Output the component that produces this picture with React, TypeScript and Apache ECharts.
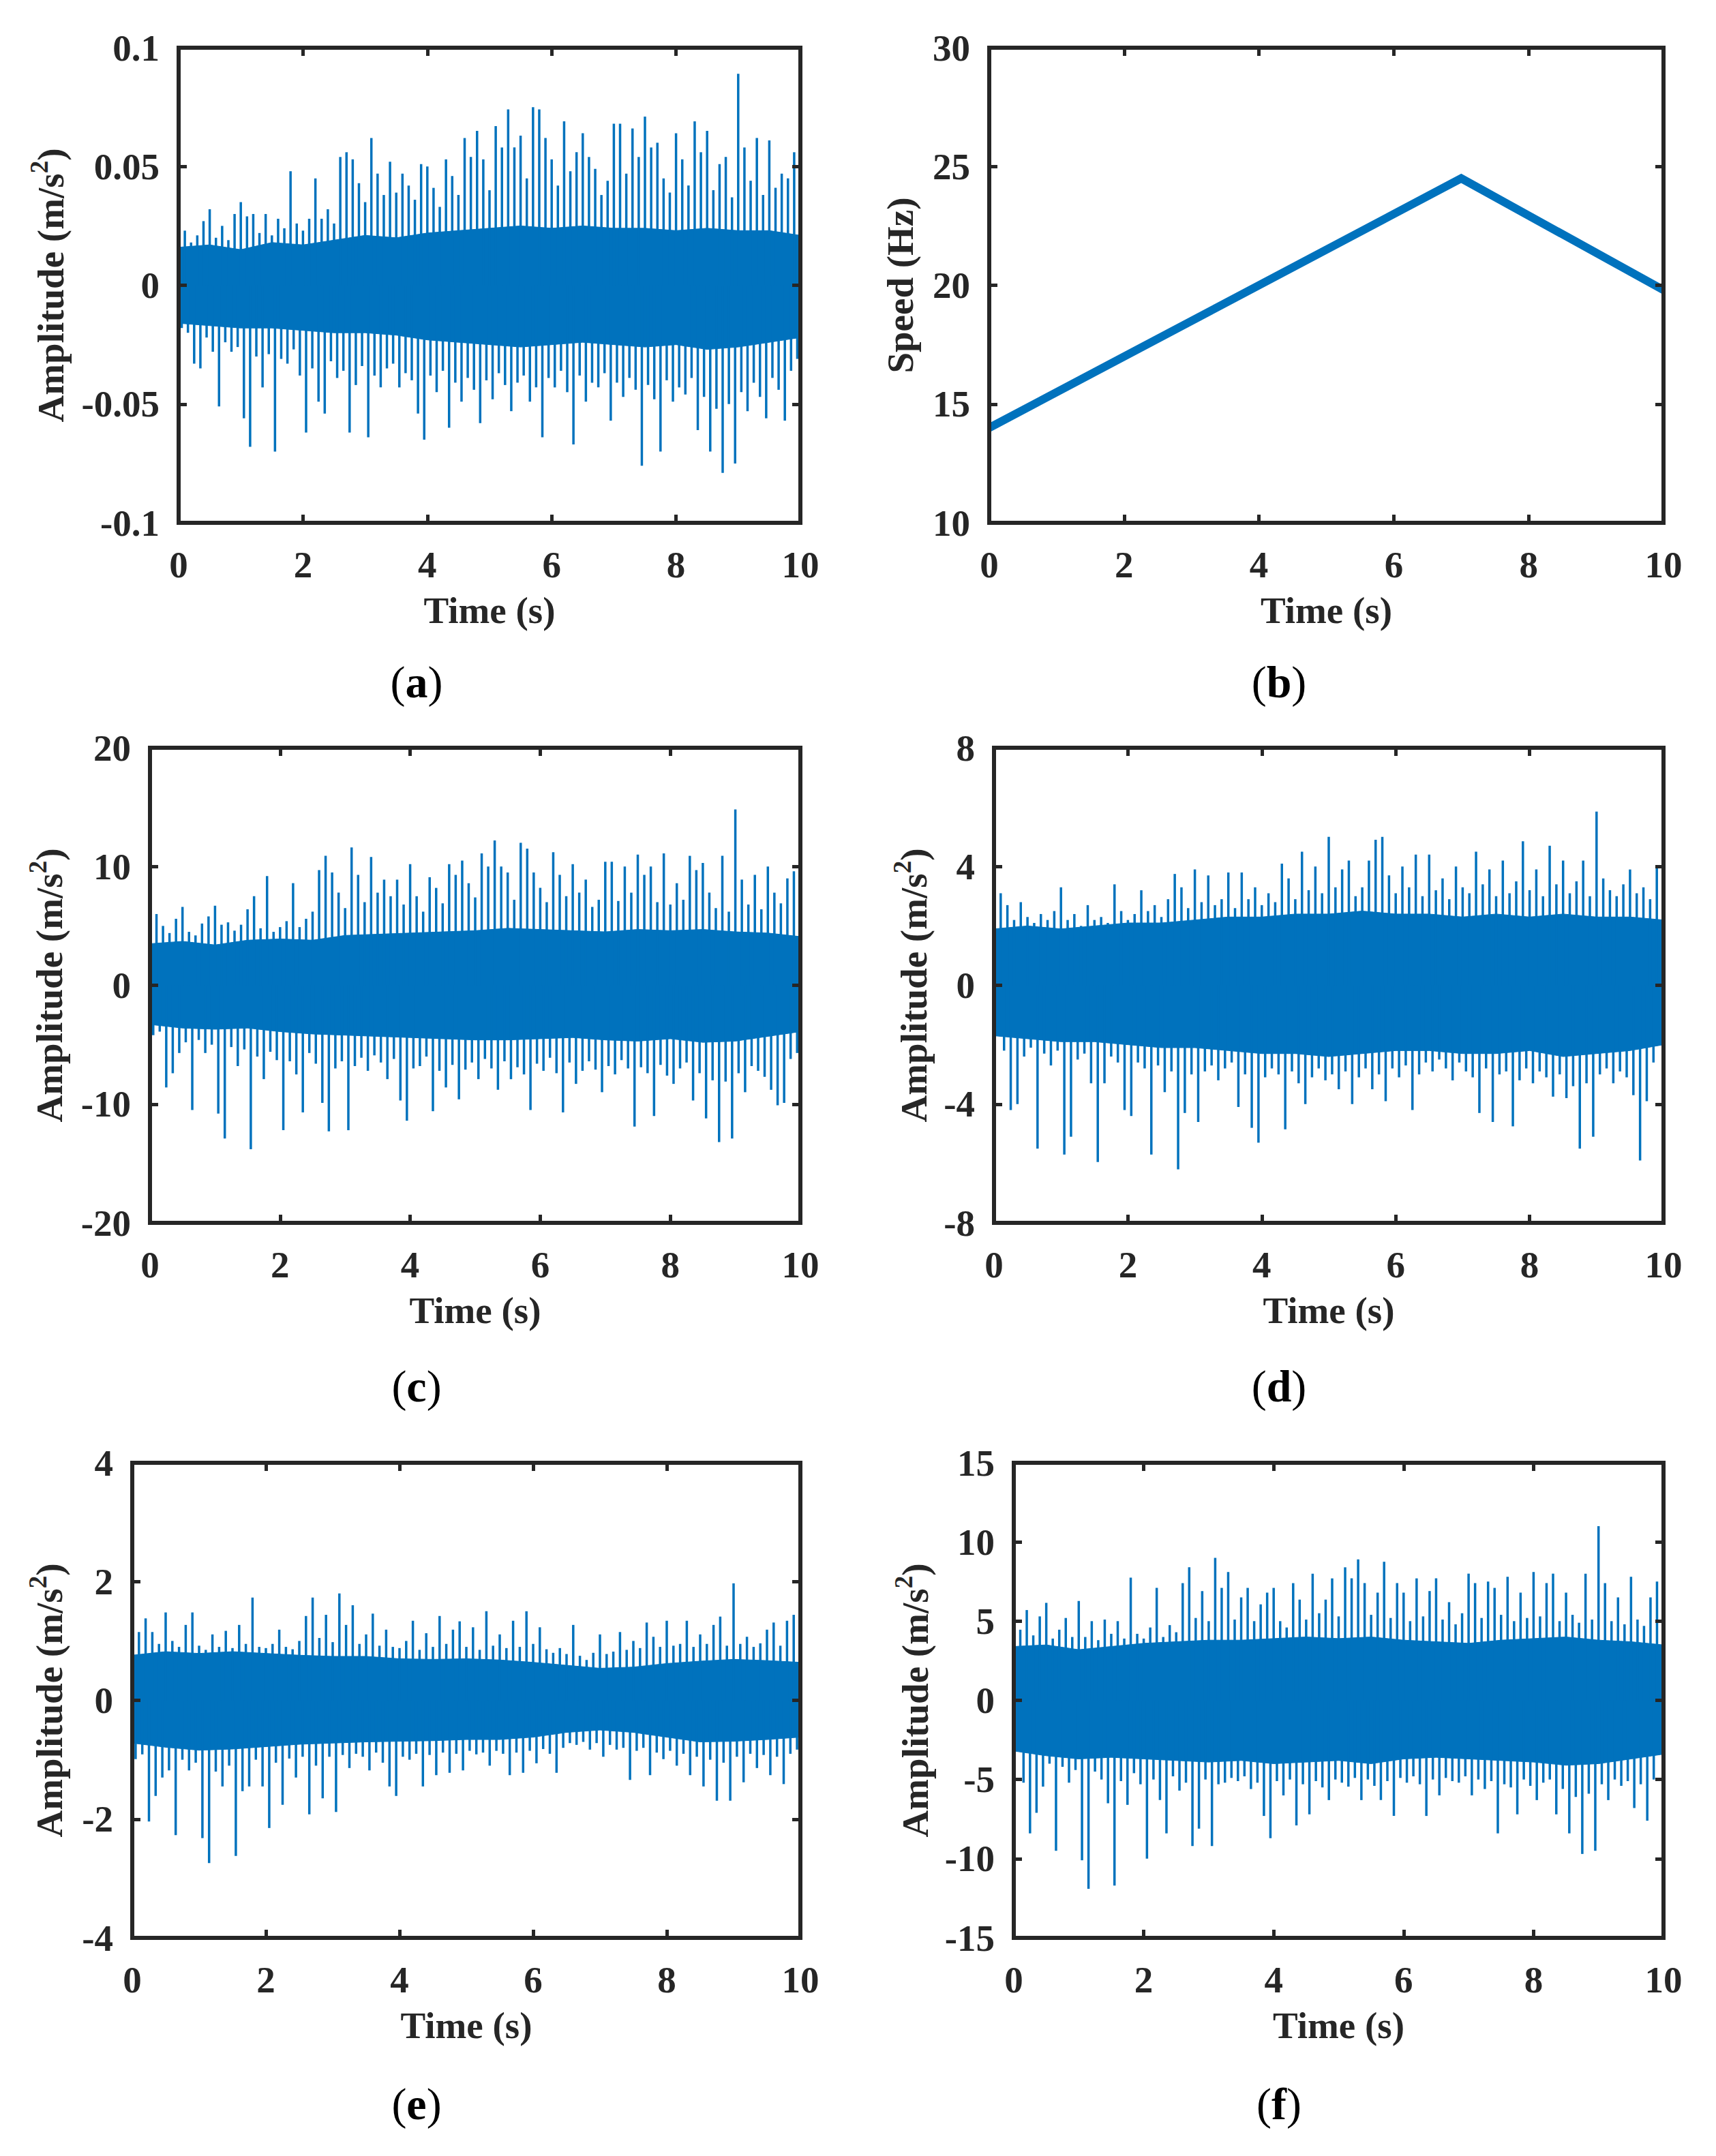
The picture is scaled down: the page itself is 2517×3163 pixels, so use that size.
import React, { useEffect, useRef } from "react";
import * as echarts from "echarts";

const BLUE = "#0072BD";
const INK = "#262626";
const FONT = "Liberation Serif, Times New Roman, serif";

// upper peaks every 0.1 s from t = 0, lower peaks every 0.1 s from t = 0.05
const PEAK_STEP = 0.1;
// times of the solid core envelope
const bandT = [0, 0.5, 1, 1.5, 2, 2.5, 3, 3.5, 4, 4.5, 5, 5.5, 6, 6.5, 7, 7.5, 8, 8.5, 9, 9.5, 10];

// (a) raw acceleration
const aUp = [
  0.022, 0.023, 0.018, 0.021, 0.027, 0.032, 0.02, 0.025, 0.019, 0.03,
  0.035, 0.029, 0.03, 0.022, 0.03, 0.021, 0.028, 0.024, 0.048, 0.026,
  0.023, 0.028, 0.045, 0.028, 0.032, 0.026, 0.054, 0.056, 0.053, 0.043,
  0.035, 0.062, 0.047, 0.038, 0.052, 0.039, 0.047, 0.042, 0.036, 0.051,
  0.05, 0.041, 0.033, 0.053, 0.046, 0.038, 0.062, 0.054, 0.065, 0.053,
  0.04, 0.067, 0.058, 0.074, 0.058, 0.063, 0.045, 0.075, 0.074, 0.062,
  0.053, 0.042, 0.069, 0.048, 0.056, 0.064, 0.054, 0.049, 0.038, 0.044,
  0.068, 0.068, 0.047, 0.066, 0.054, 0.071, 0.058, 0.06, 0.045, 0.039,
  0.064, 0.053, 0.042, 0.069, 0.056, 0.065, 0.04, 0.051, 0.054, 0.037,
  0.089, 0.058, 0.044, 0.062, 0.038, 0.061, 0.041, 0.047, 0.045, 0.056,
  0.025,
];
const aDn = [
  -0.018, -0.02, -0.033, -0.035, -0.022, -0.028, -0.051, -0.024, -0.028, -0.026,
  -0.056, -0.068, -0.03, -0.043, -0.029, -0.07, -0.031, -0.033, -0.027, -0.038,
  -0.062, -0.035, -0.049, -0.054, -0.032, -0.039, -0.036, -0.062, -0.042, -0.034,
  -0.064, -0.038, -0.043, -0.035, -0.033, -0.043, -0.037, -0.04, -0.054, -0.065,
  -0.038, -0.045, -0.036, -0.06, -0.041, -0.049, -0.039, -0.044, -0.058, -0.04,
  -0.048, -0.037, -0.042, -0.053, -0.041, -0.038, -0.049, -0.043, -0.064, -0.039,
  -0.043, -0.036, -0.045, -0.067, -0.038, -0.049, -0.041, -0.043, -0.037, -0.057,
  -0.041, -0.047, -0.039, -0.044, -0.076, -0.042, -0.048, -0.07, -0.04, -0.049,
  -0.043, -0.046, -0.039, -0.061, -0.047, -0.07, -0.052, -0.079, -0.05, -0.075,
  -0.045, -0.053, -0.041, -0.047, -0.056, -0.039, -0.044, -0.057, -0.036, -0.031,
];
const aHi = [0.016, 0.017, 0.015, 0.018, 0.017, 0.019, 0.021, 0.02, 0.022, 0.023, 0.024, 0.025, 0.024, 0.025, 0.024, 0.024, 0.023, 0.024, 0.023, 0.023, 0.021];
const aLo = [-0.016, -0.017, -0.018, -0.018, -0.019, -0.02, -0.02, -0.021, -0.023, -0.024, -0.025, -0.026, -0.025, -0.024, -0.025, -0.026, -0.025, -0.027, -0.026, -0.024, -0.022];

// (b) shaft speed
const speedT = [0, 7, 10];
const speedHz = [14, 24.5, 19.8];

// (c)
const cUp = [
  4.9, 6.0, 5.0, 4.4, 5.6, 6.6, 4.5, 4.2, 5.2, 5.8,
  6.7, 5.1, 5.3, 4.6, 5.1, 6.4, 7.5, 4.8, 9.2, 4.5,
  4.9, 5.4, 8.6, 4.9, 5.6, 6.2, 9.7, 10.9, 9.5, 7.8,
  6.5, 11.6, 9.3, 7.0, 10.8, 7.8, 8.9, 7.5, 8.9, 6.8,
  10.2, 7.5, 6.2, 9.1, 8.2, 6.9, 10.2, 9.3, 10.5, 8.6,
  7.4, 11.1, 10.0, 12.2, 10.0, 9.5, 7.2, 12.0, 11.5, 9.5,
  8.2, 7.0, 11.2, 9.3, 7.5, 10.2, 7.8, 8.9, 6.6, 7.2,
  10.4, 10.4, 7.1, 10.0, 7.8, 11.0, 9.3, 10.0, 7.0, 11.1,
  6.8, 8.6, 7.2, 10.9, 9.7, 10.3, 7.8, 6.5, 10.9, 6.2,
  14.8, 8.9, 6.8, 9.3, 6.4, 10.0, 7.8, 6.9, 9.0, 9.6,
  4.5,
];
const cDn = [
  -4.2, -3.9, -8.6, -7.4, -5.7, -4.8, -10.5, -4.6, -5.7, -5.0,
  -10.8, -12.9, -5.2, -6.8, -5.4, -13.8, -6.0, -7.9, -5.6, -6.3,
  -12.2, -6.4, -7.5, -10.7, -5.7, -6.6, -9.9, -12.3, -7.0, -6.4,
  -12.2, -6.8, -6.1, -7.2, -5.9, -6.5, -7.9, -6.2, -9.7, -11.4,
  -7.0, -6.8, -6.0, -10.6, -7.2, -8.6, -6.7, -9.6, -7.1, -6.5,
  -7.9, -6.2, -7.0, -8.8, -6.4, -7.9, -6.9, -7.5, -10.5, -6.6,
  -7.2, -6.1, -7.4, -10.7, -6.5, -8.3, -7.2, -6.4, -7.1, -9.0,
  -6.8, -7.5, -6.3, -7.0, -11.9, -6.9, -7.4, -11.0, -6.7, -7.6,
  -8.3, -7.0, -6.5, -9.7, -7.4, -11.2, -8.0, -13.2, -8.1, -12.9,
  -7.4, -9.0, -6.8, -7.2, -7.7, -8.8, -10.1, -9.9, -6.2, -5.7,
];
const cHi = [3.5, 3.7, 3.4, 3.8, 3.9, 3.8, 4.2, 4.3, 4.4, 4.5, 4.6, 4.8, 4.7, 4.6, 4.5, 4.7, 4.6, 4.7, 4.5, 4.4, 4.1];
const cLo = [-3.3, -3.6, -3.7, -3.6, -3.9, -4.1, -4.2, -4.3, -4.4, -4.5, -4.6, -4.6, -4.5, -4.4, -4.6, -4.7, -4.5, -4.8, -4.7, -4.3, -3.9];

// (d)
const dUp = [
  2.7, 3.1, 2.7, 2.2, 2.8, 2.3, 2.1, 2.4, 2.2, 2.5,
  3.3, 2.2, 2.4, 2.0, 2.7, 2.2, 2.3, 2.1, 3.4, 2.5,
  2.2, 2.4, 3.2, 2.5, 2.7, 2.3, 2.9, 3.75, 3.3, 2.6,
  3.9, 2.8, 3.7, 2.7, 2.9, 3.8, 2.6, 3.8, 2.9, 3.3,
  2.7, 3.1, 2.8, 4.1, 3.6, 2.9, 4.5, 3.2, 4.0, 3.1,
  5.0, 3.3, 3.9, 4.2, 3.0, 3.3, 4.2, 4.9, 5.0, 3.7,
  3.1, 4.0, 3.3, 4.4, 3.0, 4.4, 3.2, 3.6, 2.9, 4.0,
  3.3, 3.1, 4.5, 3.4, 3.9, 3.0, 4.2, 3.1, 3.5, 4.85,
  3.2, 3.9, 3.0, 4.7, 3.4, 4.2, 3.1, 3.5, 4.2, 3.0,
  5.85, 3.6, 3.2, 3.0, 3.4, 3.9, 3.1, 3.3, 2.9, 4.0,
  2.5,
];
const dDn = [
  -1.4, -2.2, -4.2, -4.0, -2.4, -2.1, -5.5, -2.3, -2.7, -2.2,
  -5.7, -5.1, -2.5, -2.3, -3.3, -5.95, -3.3, -2.4, -2.6, -4.2,
  -4.4, -2.6, -2.8, -5.7, -2.7, -3.6, -2.9, -6.2, -4.3, -3.0,
  -4.6, -2.9, -2.7, -3.2, -2.8, -2.6, -4.1, -3.0, -4.8, -5.3,
  -3.1, -2.8, -3.0, -4.85, -2.9, -3.3, -4.0, -3.1, -2.8, -3.2,
  -3.0, -3.5, -2.9, -4.0, -3.1, -2.8, -3.5, -3.0, -3.9, -2.8,
  -3.1, -2.7, -4.2, -3.0, -2.6, -2.9, -2.5, -2.8, -3.2, -2.6,
  -2.9, -3.1, -4.3, -2.8, -4.6, -3.0, -2.9, -4.75, -3.2, -2.8,
  -3.3, -2.9, -3.1, -3.75, -3.0, -3.8, -3.4, -5.5, -3.3, -5.1,
  -3.0, -2.8, -3.3, -2.9, -3.1, -3.7, -5.9, -3.9, -2.6, -1.9,
];
const dHi = [1.9, 2.0, 1.9, 2.0, 2.1, 2.1, 2.2, 2.3, 2.3, 2.4, 2.4, 2.5, 2.4, 2.4, 2.3, 2.4, 2.3, 2.4, 2.3, 2.3, 2.2];
const dLo = [-1.7, -1.8, -1.9, -1.9, -2.0, -2.1, -2.1, -2.2, -2.3, -2.3, -2.4, -2.3, -2.2, -2.2, -2.3, -2.3, -2.2, -2.4, -2.3, -2.2, -2.0];

// (e)
const eUp = [
  1.07, 1.15, 1.38, 1.15, 0.95, 1.48, 1.0, 0.9, 1.27, 1.48,
  0.92, 0.85, 1.11, 0.9, 1.17, 0.88, 1.27, 0.95, 1.73, 0.9,
  0.88, 0.95, 1.19, 0.9, 0.86, 1.0, 1.42, 1.73, 1.05, 1.44,
  0.98, 1.8, 1.27, 1.6, 0.95, 1.11, 1.46, 0.92, 1.19, 0.9,
  0.88, 1.0, 1.34, 0.85, 1.13, 0.9, 1.42, 0.95, 1.19, 1.33,
  0.9, 1.23, 0.85, 1.5, 0.92, 1.11, 0.88, 1.34, 0.9, 1.5,
  0.95, 1.23, 0.86, 0.8, 0.88, 0.78, 1.27, 0.75, 0.68, 0.8,
  1.11, 0.78, 0.82, 1.15, 0.85, 1.0, 0.88, 1.31, 1.07, 0.9,
  1.34, 0.92, 0.95, 1.34, 0.9, 1.11, 0.95, 1.27, 1.41, 0.92,
  1.97, 0.95, 1.07, 0.9, 0.96, 1.19, 1.31, 0.92, 1.34, 1.44,
  0.8,
];
const eDn = [
  -0.99, -0.91, -2.04, -1.61, -1.3, -1.18, -2.27, -1.0, -1.18, -1.05,
  -2.32, -2.74, -1.2, -1.45, -1.1, -2.62, -1.53, -1.45, -1.0, -1.45,
  -2.15, -1.05, -1.76, -0.98, -1.3, -0.95, -1.92, -1.1, -1.65, -0.95,
  -1.88, -0.92, -1.14, -0.9, -0.95, -1.18, -0.88, -1.05, -1.45, -1.61,
  -0.95, -1.0, -0.9, -1.45, -0.92, -1.26, -0.88, -1.22, -0.9, -1.18,
  -0.85, -0.91, -0.88, -1.1, -0.85, -0.9, -1.26, -0.88, -1.22, -0.85,
  -1.06, -0.82, -0.9, -1.22, -0.8, -0.72, -0.75, -0.7, -0.83, -0.72,
  -0.95, -0.75, -0.83, -0.8, -1.34, -0.85, -0.8, -1.26, -0.88, -0.99,
  -0.85, -1.1, -0.9, -1.26, -0.95, -1.45, -1.0, -1.69, -1.05, -1.69,
  -0.95, -1.38, -0.9, -1.14, -0.92, -1.26, -0.95, -1.41, -0.9, -0.83,
];
const eHi = [0.76, 0.82, 0.79, 0.82, 0.79, 0.76, 0.74, 0.74, 0.7, 0.69, 0.7, 0.68, 0.64, 0.59, 0.54, 0.56, 0.62, 0.66, 0.69, 0.67, 0.64];
const eLo = [-0.72, -0.79, -0.84, -0.82, -0.78, -0.74, -0.72, -0.7, -0.69, -0.68, -0.66, -0.66, -0.62, -0.54, -0.5, -0.54, -0.62, -0.7, -0.69, -0.66, -0.62];

// (f)
const fUp = [
  4.75, 4.46, 5.7, 4.1, 5.3, 6.15, 3.9, 4.46, 5.2, 4.0,
  6.27, 4.0, 5.0, 3.8, 5.1, 4.2, 5.0, 3.9, 7.75, 4.2,
  3.9, 4.6, 7.1, 4.0, 4.75, 4.3, 7.4, 8.4, 5.2, 6.9,
  5.0, 9.0, 7.1, 8.1, 5.1, 6.5, 7.1, 5.0, 6.06, 6.8,
  7.1, 5.0, 4.6, 7.4, 6.36, 5.1, 8.0, 5.5, 6.36, 7.7,
  5.3, 8.4, 7.7, 8.9, 7.4, 5.4, 6.8, 8.75, 5.2, 7.4,
  6.8, 5.0, 7.7, 5.3, 6.9, 7.7, 5.1, 6.2, 4.8, 5.5,
  8.0, 7.4, 5.2, 7.5, 7.1, 5.4, 7.8, 5.0, 6.8, 5.2,
  8.1, 5.3, 7.4, 8.0, 5.0, 6.8, 5.4, 4.9, 8.0, 5.1,
  11.0, 7.4, 5.0, 6.5, 4.8, 7.8, 5.1, 4.7, 6.5, 7.5,
  3.8,
];
const fDn = [
  -3.1, -5.2, -8.4, -7.1, -5.45, -4.0, -9.5, -4.2, -5.2, -4.4,
  -10.1, -11.9, -4.5, -5.0, -6.5, -11.7, -5.1, -6.6, -4.6, -5.3,
  -10.0, -5.0, -6.3, -8.4, -4.8, -5.7, -5.2, -9.2, -8.1, -5.0,
  -9.2, -5.3, -5.2, -4.9, -5.1, -4.8, -5.6, -5.2, -7.3, -8.7,
  -5.1, -6.0, -5.0, -7.9, -5.3, -7.2, -5.1, -5.5, -6.3, -5.0,
  -5.2, -5.45, -4.9, -6.3, -5.0, -5.4, -6.3, -5.1, -7.3, -4.9,
  -5.2, -4.8, -5.3, -7.3, -5.0, -6.0, -4.9, -5.1, -5.2, -4.8,
  -6.0, -5.0, -5.6, -5.1, -8.4, -5.3, -5.5, -7.2, -5.0, -5.4,
  -6.3, -5.2, -5.0, -7.2, -5.6, -8.4, -6.1, -9.7, -5.9, -9.5,
  -5.3, -6.3, -5.0, -5.4, -5.1, -6.8, -5.3, -7.6, -5.0, -3.1,
];
const fHi = [3.4, 3.5, 3.2, 3.4, 3.6, 3.7, 3.8, 3.8, 3.9, 4.0, 3.9, 4.0, 3.8, 3.7, 3.6, 3.8, 3.9, 4.0, 3.8, 3.7, 3.5];
const fLo = [-3.2, -3.5, -3.7, -3.6, -3.7, -3.8, -3.9, -3.8, -4.0, -3.9, -3.8, -4.0, -3.7, -3.6, -3.7, -3.8, -3.9, -4.1, -4.0, -3.7, -3.4];

const AMP = "Amplitude (m/s{sup|2})";

type Panel = {
  tag: string;
  left: number;
  top: number;
  width: number;
  height: number;
  yMin: number;
  yMax: number;
  yStep: number;
  yName: string;
  yGap: number;
  labelX: number;
  labelY: number;
  up?: number[];
  dn?: number[];
  hi?: number[];
  lo?: number[];
};

const panels: Panel[] = [
  { tag: "a", left: 262, top: 70, width: 912, height: 697, yMin: -0.1, yMax: 0.1, yStep: 0.05, yName: AMP, yGap: 153, labelX: 611, labelY: 1000, up: aUp, dn: aDn, hi: aHi, lo: aLo },
  { tag: "b", left: 1451, top: 70, width: 989, height: 697, yMin: 10, yMax: 30, yStep: 5, yName: "Speed (Hz)", yGap: 101, labelX: 1876, labelY: 1000 },
  { tag: "c", left: 220, top: 1097, width: 954, height: 697, yMin: -20, yMax: 20, yStep: 10, yName: AMP, yGap: 113, labelX: 611, labelY: 2033, up: cUp, dn: cDn, hi: cHi, lo: cLo },
  { tag: "d", left: 1458, top: 1097, width: 982, height: 697, yMin: -8, yMax: 8, yStep: 4, yName: AMP, yGap: 83, labelX: 1876, labelY: 2033, up: dUp, dn: dDn, hi: dHi, lo: dLo },
  { tag: "e", left: 194, top: 2146, width: 980, height: 697, yMin: -4, yMax: 4, yStep: 2, yName: AMP, yGap: 87, labelX: 611, labelY: 3086, up: eUp, dn: eDn, hi: eHi, lo: eLo },
  { tag: "f", left: 1487, top: 2146, width: 953, height: 697, yMin: -15, yMax: 15, yStep: 5, yName: AMP, yGap: 110, labelX: 1876, labelY: 3086, up: fUp, dn: fDn, hi: fHi, lo: fLo },
];

const textBase = {
  color: INK,
  fontFamily: FONT,
  fontWeight: "bold" as const,
  fontSize: 55,
  lineHeight: 60,
};

const tickStyle = {
  inside: true,
  length: 12,
  lineStyle: { color: INK, width: 5 },
};

// one vertical stroke per peak, from the zero line to the peak value
const renderPeak = (_params: any, api: any) => {
  const t = api.value(0);
  const base = api.coord([t, 0]);
  const tip = api.coord([t, api.value(1)]);
  return {
    type: "line",
    shape: { x1: base[0], y1: base[1], x2: tip[0], y2: tip[1] },
    style: { stroke: BLUE, lineWidth: 3.5 },
  };
};

// the solid core as one polygon (upper edge forward, lower edge back)
const makeCoreRenderer = (hi: number[], lo: number[]) => (params: any, api: any) => {
  if (params.dataIndex !== 0) return null;
  const upper = bandT.map((t, k) => api.coord([t, hi[k]]));
  const lower = bandT.map((t, k) => api.coord([t, lo[k]])).reverse();
  return {
    type: "polygon",
    shape: { points: upper.concat(lower) },
    style: { fill: BLUE, stroke: BLUE, lineWidth: 1 },
  };
};

const buildOption = (): echarts.EChartsOption => {
  const grid: any[] = [];
  const xAxis: any[] = [];
  const yAxis: any[] = [];
  const series: any[] = [];
  const graphic: any[] = [];

  panels.forEach((p, i) => {
    grid.push({
      left: p.left,
      top: p.top,
      width: p.width,
      height: p.height,
      show: true,
      backgroundColor: "transparent",
      borderColor: INK,
      borderWidth: 6,
      z: 10,
    });

    const xCommon = {
      gridIndex: i,
      type: "value",
      min: 0,
      max: 10,
      interval: 2,
      axisLine: { show: false, onZero: false },
      axisTick: tickStyle,
      splitLine: { show: false },
      z: 10,
    };
    xAxis.push({
      ...xCommon,
      position: "bottom",
      axisLabel: { ...textBase, margin: 31 },
      name: "Time (s)",
      nameLocation: "middle",
      nameGap: 98,
      nameTextStyle: { ...textBase },
    });
    xAxis.push({ ...xCommon, position: "top", axisLabel: { show: false } });

    const yCommon = {
      gridIndex: i,
      type: "value",
      min: p.yMin,
      max: p.yMax,
      interval: p.yStep,
      axisLine: { show: false, onZero: false },
      axisTick: tickStyle,
      splitLine: { show: false },
      z: 10,
    };
    yAxis.push({
      ...yCommon,
      position: "left",
      axisLabel: { ...textBase, margin: 28 },
      name: p.yName,
      nameLocation: "middle",
      nameGap: p.yGap,
      nameTextStyle: {
        ...textBase,
        lineHeight: p.up ? 70 : 60,
        rich: {
          sup: {
            color: INK,
            fontFamily: FONT,
            fontWeight: "bold",
            fontSize: 37,
            lineHeight: 30,
            verticalAlign: "top",
          },
        },
      },
    });
    yAxis.push({ ...yCommon, position: "right", axisLabel: { show: false } });

    const axisRef = { xAxisIndex: 2 * i, yAxisIndex: 2 * i };

    if (p.up && p.dn && p.hi && p.lo) {
      series.push({
        ...axisRef,
        type: "custom",
        data: bandT.map((t, k) => [t, p.hi![k], p.lo![k]]),
        renderItem: makeCoreRenderer(p.hi, p.lo),
        clip: true,
        silent: true,
      });
      const peaks: number[][] = [];
      p.up.forEach((v, k) => {
        peaks.push([+(k * PEAK_STEP).toFixed(2), v]);
        if (k < p.dn!.length) {
          peaks.push([+(k * PEAK_STEP + PEAK_STEP / 2).toFixed(2), p.dn![k]]);
        }
      });
      series.push({
        ...axisRef,
        type: "custom",
        data: peaks,
        renderItem: renderPeak,
        clip: true,
        silent: true,
      });
    } else {
      series.push({
        ...axisRef,
        type: "line",
        data: speedT.map((t, k) => [t, speedHz[k]]),
        symbol: "none",
        silent: true,
        lineStyle: { color: BLUE, width: 12, join: "miter" },
      });
    }

    graphic.push({
      type: "text",
      x: p.labelX,
      y: p.labelY,
      style: {
        text: `{p|(}{b|${p.tag}}{p|)}`,
        align: "center",
        verticalAlign: "middle",
        rich: {
          p: { fontFamily: FONT, fontSize: 66, fill: "#000" },
          b: { fontFamily: FONT, fontSize: 66, fontWeight: "bold", fill: "#000" },
        },
      },
    });
  });

  return {
    animation: false,
    backgroundColor: "#ffffff",
    grid,
    xAxis,
    yAxis,
    series,
    graphic,
  };
};

const App = () => {
  const chartRef = useRef<HTMLDivElement>(null);

  useEffect(() => {
    document.body.style.margin = "0";
    if (!chartRef.current) return;
    const chart = echarts.init(chartRef.current, undefined, { renderer: "svg" });
    chart.setOption(buildOption());
    return () => {
      chart.dispose();
    };
  }, []);

  return <div ref={chartRef} style={{ width: "2517px", height: "3163px" }} />;
};

export default App;
